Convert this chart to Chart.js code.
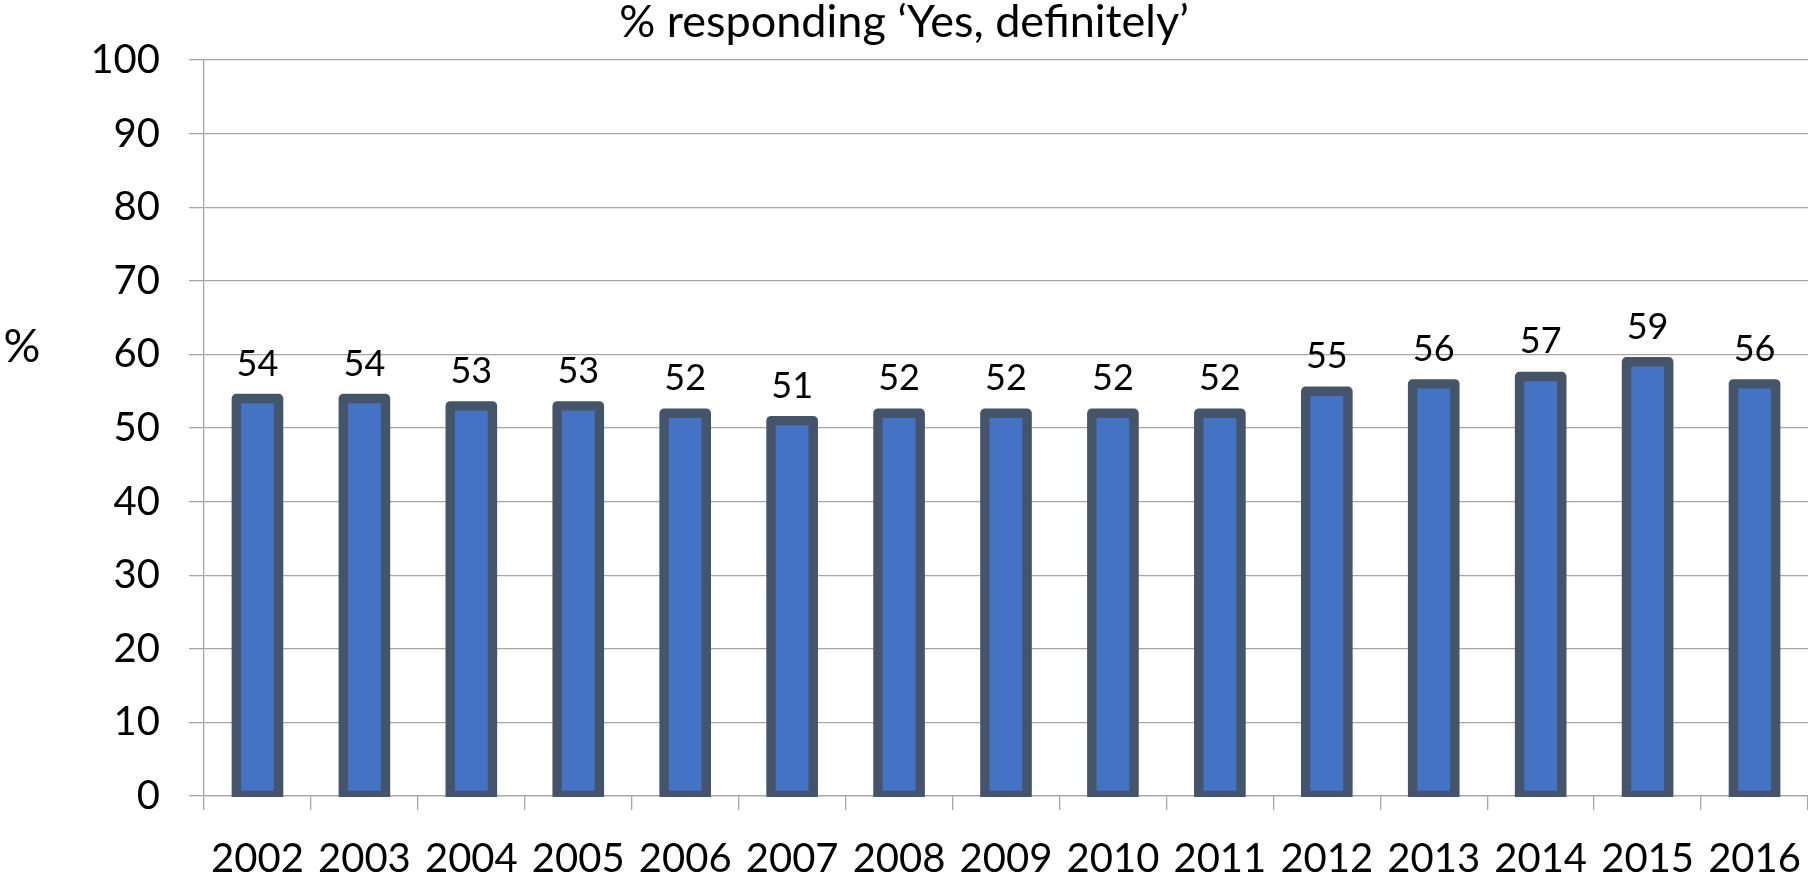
<!DOCTYPE html>
<html>
<head>
<meta charset="utf-8">
<script src="https://cdn.jsdelivr.net/npm/chart.js@4/dist/chart.umd.min.js"></script>
<style>
html,body{margin:0;padding:0;background:#ffffff;}
canvas{display:block;}
</style>
</head>
<body>
<canvas id="c" width="1808" height="879"></canvas>
<script>
// ---- data ----
const years = ['2002','2003','2004','2005','2006','2007','2008','2009','2010','2011','2012','2013','2014','2015','2016'];
const values = [54,54,53,53,52,51,52,52,52,52,55,56,57,59,56];
const yTicks = [0,10,20,30,40,50,60,70,80,90,100];
const titleText = '% responding \u2018Yes, definitely\u2019';
const yAxisLabel = '%';

// ---- styles ----
const FONT = 'Lato, "Open Sans", "DejaVu Sans", sans-serif';
const GRID = '#A6A6A6';
const BAR_FILL = '#4472C4';
const BAR_EDGE = '#44546A';

const barOutline = {
  id: 'barOutline',
  afterDatasetsDraw(chart) {
    const ctx = chart.ctx;
    const area = chart.chartArea;
    const meta = chart.getDatasetMeta(0);
    ctx.save();
    ctx.beginPath();
    ctx.rect(area.left, 0, area.right - area.left, area.bottom + 1);
    ctx.clip();
    ctx.lineWidth = 9.4;
    ctx.strokeStyle = BAR_EDGE;
    ctx.lineJoin = 'round';
    meta.data.forEach(el => {
      const p = el.getProps(['x', 'y', 'base', 'width'], true);
      ctx.strokeRect(p.x - p.width / 2, p.y, p.width, p.base - p.y);
    });
    ctx.restore();

    ctx.save();
    ctx.fillStyle = '#000';
    ctx.font = '36px ' + FONT;
    ctx.textAlign = 'center';
    ctx.textBaseline = 'alphabetic';
    meta.data.forEach((el, i) => {
      const p = el.getProps(['x', 'y'], true);
      ctx.fillText(String(values[i]), p.x, p.y - 23);
    });
    ctx.restore();
  },
  afterDraw(chart) {
    const ctx = chart.ctx;
    const area = chart.chartArea;
    ctx.save();
    ctx.fillStyle = '#000';
    ctx.font = '46px ' + FONT;
    ctx.textAlign = 'center';
    ctx.textBaseline = 'middle';
    ctx.fillText(yAxisLabel, 22, area.top + (area.bottom - area.top) * 0.39);
    ctx.restore();
  }
};

new Chart(document.getElementById('c'), {
  type: 'bar',
  data: {
    labels: years,
    datasets: [{
      data: values,
      backgroundColor: BAR_FILL,
      borderWidth: 0,
      barPercentage: 0.395,
      categoryPercentage: 1
    }]
  },
  options: {
    responsive: false,
    animation: false,
    layout: { padding: { left: 0, right: 0, top: 0, bottom: 0 } },
    plugins: {
      legend: { display: false },
      tooltip: { enabled: false },
      title: {
        display: true,
        text: titleText,
        color: '#000',
        font: { family: FONT, size: 45, weight: 'normal', lineHeight: 1 },
        padding: { top: 0, bottom: 15 }
      }
    },
    scales: {
      x: {
        type: 'category',
        grid: {
          offset: true,
          drawOnChartArea: false,
          drawTicks: true,
          tickLength: 14,
          color: GRID,
          lineWidth: 1.3
        },
        border: { display: true, color: GRID, width: 1.3 },
        ticks: {
          color: '#000',
          font: { family: FONT, size: 40 },
          padding: 25,
          maxRotation: 0,
          autoSkip: false
        },
        afterFit: s => { s.height = 83; s.paddingLeft = 0; s.paddingRight = 0; }
      },
      y: {
        min: 0,
        max: 100,
        afterBuildTicks: s => { s.ticks = yTicks.map(v => ({ value: v })); },
        grid: {
          color: GRID,
          lineWidth: 1.3,
          drawTicks: true,
          tickLength: 15
        },
        border: { display: true, color: GRID, width: 1.3 },
        ticks: {
          color: '#000',
          font: { family: FONT, size: 40 },
          padding: 29
        },
        afterFit: s => { s.width = 204; s.paddingTop = 0; s.paddingBottom = 0; }
      }
    }
  },
  plugins: [barOutline]
});
</script>
</body>
</html>
